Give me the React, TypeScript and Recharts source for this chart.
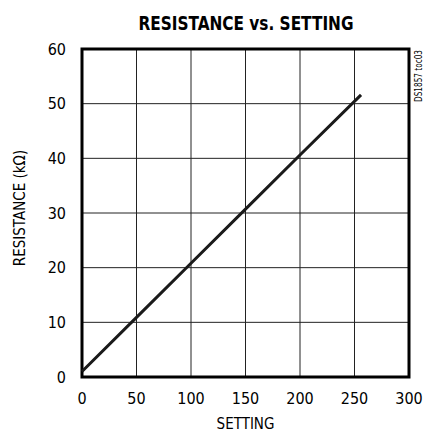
import React from "react";
import {
  LineChart,
  Line,
  XAxis,
  YAxis,
  CartesianGrid,
  ReferenceArea,
} from "recharts";

const settings = [0, 50, 100, 150, 200, 256];
const resistance = [1.0, 10.9, 20.8, 30.7, 40.6, 51.6];
const xTicks = [0, 50, 100, 150, 200, 250, 300];
const yTicks = [0, 10, 20, 30, 40, 50, 60];

const data = settings.map((s, i) => ({ setting: s, resistance: resistance[i] }));

const FONT = "'DejaVu Sans Condensed', 'Liberation Sans', sans-serif";

export default function App() {
  return (
    <div style={{ position: "absolute", left: 0, top: 0, background: "#fff" }}>
      <LineChart
        width={424}
        height={433}
        data={data}
        margin={{ top: 49, right: 15, bottom: 0, left: 0 }}
        style={{ fontFamily: FONT }}
      >
        <text
          x={246}
          y={30}
          textAnchor="middle"
          fontSize={19}
          fontWeight="bold"
          fill="#000"
          textLength={215}
          lengthAdjust="spacingAndGlyphs"
        >
          RESISTANCE vs. SETTING
        </text>
        <text
          x={422}
          y={50}
          textAnchor="end"
          fontSize={10}
          fill="#000"
          textLength={52}
          lengthAdjust="spacingAndGlyphs"
          transform="rotate(-90 422 50)"
        >
          DS1857 toc03
        </text>
        <CartesianGrid stroke="#222" strokeWidth={1} />
        <XAxis
          type="number"
          dataKey="setting"
          domain={[0, 300]}
          ticks={xTicks}
          height={56}
          tickLine={false}
          axisLine={false}
          tickSize={0}
          tickMargin={16}
          tick={{ fill: "#000", fontSize: 16 }}
          label={{ value: "SETTING", position: "insideBottom", offset: 4, fill: "#000", fontSize: 15 }}
        />
        <YAxis
          type="number"
          domain={[0, 60]}
          ticks={yTicks}
          width={82}
          tickLine={false}
          axisLine={false}
          tickSize={0}
          tickMargin={16}
          tick={{ fill: "#000", fontSize: 16 }}
          label={{
            value: "RESISTANCE (kΩ)",
            angle: -90,
            position: "insideLeft",
            offset: 20,
            dy: -5,
            style: { textAnchor: "middle" },
            fill: "#000",
            fontSize: 15,
          }}
        />
        <ReferenceArea
          x1={0}
          x2={300}
          y1={0}
          y2={60}
          fill="none"
          fillOpacity={0}
          stroke="#000"
          strokeWidth={3}
          ifOverflow="visible"
        />
        <Line
          type="linear"
          dataKey="resistance"
          stroke="#1a1a1a"
          strokeWidth={3}
          dot={false}
          isAnimationActive={false}
        />
      </LineChart>
    </div>
  );
}
